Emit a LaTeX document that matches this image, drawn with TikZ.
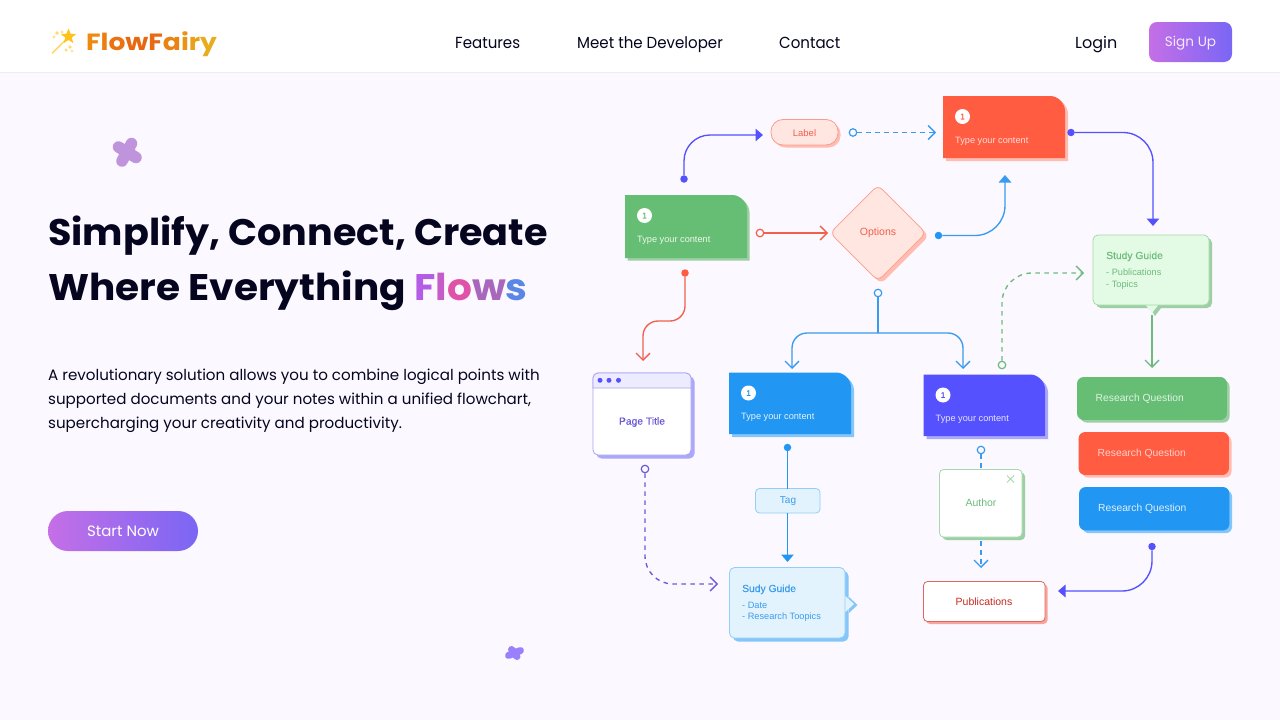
\documentclass[tikz,border=0pt]{standalone}
\usepackage{fontspec}
\usetikzlibrary{arrows.meta,shapes.geometric,calc}
\setmainfont{Poppins}
\newfontfamily\dgm{Liberation Sans}
\newfontfamily\dgmm[FakeBold=0.15]{Liberation Sans}
\newfontfamily\ttl[FakeStretch=1.03]{Poppins}
\newfontfamily\ttlb[FakeStretch=1.055]{Poppins}
\newfontfamily\logof[FakeStretch=1.13]{Poppins}
\newfontfamily\navf[FakeStretch=.94]{Poppins}
\definecolor{bgc}{HTML}{FBF8FF}
\definecolor{ink}{HTML}{05051F}
\definecolor{gr}{HTML}{66BE74}
\definecolor{grs}{HTML}{9DCFA4}
\definecolor{grl}{HTML}{E3FBE4}
\definecolor{grb}{HTML}{A8D8AC}
\definecolor{re}{HTML}{FF5C42}
\definecolor{res}{HTML}{FFBCB0}
\definecolor{rel}{HTML}{FFE6E1}
\definecolor{reb}{HTML}{FF9A8A}
\definecolor{red}{HTML}{C62A1E}
\definecolor{pbs}{HTML}{F8A39B}
\definecolor{pbb}{HTML}{E0655A}
\definecolor{bl}{HTML}{2196F3}
\definecolor{bls}{HTML}{85C6FA}
\definecolor{bll}{HTML}{E3F3FE}
\definecolor{blb}{HTML}{93CDF8}
\definecolor{pu}{HTML}{5551FF}
\definecolor{pus}{HTML}{ABA8FA}
\definecolor{pub}{HTML}{A9A2F0}
\definecolor{pul}{HTML}{EDEBFF}
\definecolor{pud}{HTML}{6A5AD8}
\definecolor{gold}{HTML}{FFC21A}
\definecolor{gola}{HTML}{FFD866}
\definecolor{gs}{HTML}{C56FE6}
\definecolor{ge}{HTML}{7A66F5}
\definecolor{bloba}{HTML}{C094DC}
\definecolor{blobb}{HTML}{9A7FFF}
\definecolor{lnre}{HTML}{F0604C}
\definecolor{lnbl}{HTML}{3A9BEE}
\definecolor{lngr}{HTML}{6DBB7C}
\tikzset{
  x=1pt,y=-1pt,
  dotf/.style={circle,fill=#1,inner sep=0pt,minimum size=7.5pt},
  doto/.style={circle,draw=#1,fill=bgc,line width=1.2pt,inner sep=0pt,minimum size=7.5pt},
  cona/.style={line width=1.35pt,line join=round},
  chev/.style={-{Straight Barb[length=7pt,width=14pt,line width=1.35pt]}},
  tri/.style={-{Triangle[length=7.5pt,width=12.5pt]}},
  dashs/.style={dash pattern=on 4.5pt off 4.5pt},
  dtxt/.style={inner sep=0pt,font=\dgm\fontsize{9.2}{12}\selectfont},
  navt/.style={inner sep=0pt,font=\navf\fontsize{16}{20}\selectfont,text=ink},
  para/.style={anchor=base west,inner sep=0pt,font=\fontsize{15.1}{18}\selectfont,text=ink},
  badge/.style={circle,fill=white,inner sep=0pt,minimum size=15pt,font=\dgmm\fontsize{8}{8}\selectfont},
  rq/.style={anchor=west,inner sep=0pt,font=\dgm\fontsize{10.3}{12}\selectfont},
  heads/.style={anchor=base west,inner sep=0pt,font=\dgmm\fontsize{10.3}{12}\selectfont},
  subs/.style={anchor=base west,inner sep=0pt,font=\dgm\fontsize{9.2}{11}\selectfont},
  blob/.style={line cap=round},
  ttlt/.style={anchor=base west,inner sep=0pt,text=ink,font=\bfseries\fontsize{37}{40}\selectfont},
  dia/.style={diamond,aspect=1,minimum size=96pt,inner sep=0pt,rounded corners=6pt},
}
\newcommand\fcard[9]{%
  \fill[#7] ({#2+#8},{#3+#8}) -- ({#4+#8-15},{#3+#8}) .. controls ({#4+#8-7},{#3+#8}) and ({#4+#8},{#3+#8+7}) .. ({#4+#8},{#3+#8+15}) -- ({#4+#8},{#5+#8}) -- ({#2+#8},{#5+#8}) -- cycle;
  \fill[#6] (#2,#3) -- ({#4-15},#3) .. controls ({#4-7},#3) and (#4,{#3+7}) .. (#4,{#3+15}) -- (#4,#5) -- (#2,#5) -- cycle;
  \node[badge,text=#6] (#1b) at ({#2+19.5},{#3+20.5}) {1};
  \node[dtxt,anchor=west,text=#9] (#1t) at ({#2+12},{#3+45}) {Type your content};
}
\newcommand\rbox[9]{%
  \fill[#7,rounded corners=#9pt] ({#1+#8},{#2+#8}) rectangle ({#3+#8},{#4+#8});
  \draw[fill=#5,draw=#6,line width=.8pt,rounded corners=#9pt] (#1,#2) rectangle (#3,#4);
}
\newcommand\spark[4]{%
  \fill[#4] ({#1},{#2-#3}) -- ({#1+.3*#3},{#2-.3*#3}) -- ({#1+#3},{#2}) -- ({#1+.3*#3},{#2+.3*#3}) -- ({#1},{#2+#3}) -- ({#1-.3*#3},{#2+.3*#3}) -- ({#1-#3},{#2}) -- ({#1-.3*#3},{#2-.3*#3}) -- cycle;
}
\begin{document}
\begin{tikzpicture}
\useasboundingbox (0,0) rectangle (1280,720);
\fill[bgc] (0,0) rectangle (1280,720);
\fill[white] (0,0) rectangle (1280,72);
\draw[color=black!5!bgc,line width=.8pt] (0,72.4) -- (1280,72.4);
% logo wand
\draw[gola,line width=1.6pt,line cap=round] (52.5,53) -- (65,40.5);
\node[star,star points=5,star point ratio=2.3,fill=gold,inner sep=0pt,minimum size=16pt] (wstar) at (68.5,36.5) {};
\spark{57}{33}{2.5}{gola}
\spark{62}{32}{1.8}{gola}
\spark{54}{37}{1.8}{gola}
\spark{70}{47}{2.4}{gola}
\spark{66}{50}{2}{gola}
\spark{72}{51}{1.6}{gola}
\node[anchor=base west,inner sep=0pt,font=\logof\bfseries\fontsize{23.5}{26}\selectfont] (logo) at (86,50)
 {\textcolor[HTML]{EE8A10}{F}\textcolor[HTML]{EC7E10}{l}\textcolor[HTML]{EA7210}{o}\textcolor[HTML]{E86810}{w}\textcolor[HTML]{E86A12}{F}\textcolor[HTML]{E98414}{a}\textcolor[HTML]{EA9416}{i}\textcolor[HTML]{EAA018}{r}\textcolor[HTML]{E8AC1C}{y}};
% nav
\node[navt,anchor=base west] (nfeat) at (455,48) {Features};
\node[navt,anchor=base west] (ndev) at (577,48) {Meet the Developer};
\node[navt,anchor=base west] (ncon) at (779,48) {Contact};
\node[inner sep=0pt,anchor=base west,text=ink,font=\fontsize{16}{20}\selectfont] (nlog) at (1075,48) {Login};
\shade[left color=gs,right color=ge,rounded corners=8pt] (1149,22) rectangle (1232,62);
\node[inner sep=0pt,text=white!85!gs,font=\fontsize{13.6}{18}\selectfont] (nsign) at (1190.5,43) {Sign Up};
% blobs
\draw[blob,color=bloba,line width=11.5pt] (118.5,147) -- (136,157.5);
\draw[blob,color=bloba,line width=11.5pt] (131.5,143.5) -- (122,161);
\fill[bloba] (127,152) circle (8.5pt);
\draw[blob,color=blobb,line width=7pt] (511.5,649.5) -- (517,656.5);
\draw[blob,color=blobb,line width=7pt] (520.5,650.5) -- (508.5,655.5);
\fill[blobb] (514.5,653) circle (5pt);
% heading
\node[ttlt,font=\ttl\bfseries\fontsize{37}{40}\selectfont] (t1) at (48,245) {Simplify, Connect, Create};
\node[ttlt,font=\ttlb\bfseries\fontsize{37}{40}\selectfont] (t2) at (48,300) {Where Everything \textcolor[HTML]{B45CE6}{F}\textcolor[HTML]{C65CC8}{l}\textcolor[HTML]{E052A8}{o}\textcolor[HTML]{A866BC}{w}\textcolor[HTML]{5C86E6}{s}};
% paragraph
\node[para] (p1) at (48,380.5) {A revolutionary solution allows you to combine logical points with};
\node[para] (p2) at (48,404.5) {supported documents and your notes within a unified flowchart,};
\node[para] (p3) at (48,428.5) {supercharging your creativity and productivity.};
% start
\shade[left color=gs,right color=ge,rounded corners=20pt] (48,511) rectangle (198,551);
\node[inner sep=0pt,text=white,font=\fontsize{15}{18}\selectfont] (start) at (123,531) {Start Now};
% cards
\fcard{cg}{625}{195}{747}{258}{gr}{grs}{2.5}{white!88!gr}
\fcard{cr}{943}{96}{1065}{158}{re}{res}{3}{white!80!re}
\fcard{cb}{729}{372.5}{851}{434}{bl}{bls}{3}{white!88!bl}
\fcard{cp}{923.5}{374.5}{1045}{436}{pu}{pus}{3}{white!85!pu}
% Label pill
\rbox{771}{119.5}{838}{145}{rel}{reb}{res}{2.5}{12}
\node[inner sep=0pt,text=lnre,font=\dgm\fontsize{9.5}{12}\selectfont] (lab) at (804.5,133) {Label};
% diamond
\node[dia,fill=res] (dshadow) at (881,236) {};
\node[dia,fill=rel,draw=reb,line width=.8pt,text=lnre,font=\dgm\fontsize{10.5}{12}\selectfont] (opt) at (878,233) {\raisebox{-1.5pt}{Options}};
% Study guide green
\fill[grs] (1150,308) -- (1155,316) -- (1161,308) -- cycle;
\rbox{1093}{235}{1209}{305}{grl}{grb}{grs}{3}{5}
\fill[grl] (1146,305.4) -- (1152,313) -- (1158,305.4) -- cycle;
\node[heads,text=lngr] (sg1) at (1106,259) {Study Guide};
\node[subs,text=lngr] (sg2) at (1106,275) {- Publications};
\node[subs,text=lngr] (sg3) at (1106,287) {- Topics};
% Page title
\rbox{593}{373}{691}{455}{white}{pub}{pus}{3.5}{5}
\draw[fill=pul,draw=pub,line width=.8pt] (593,388) -- (593,378) .. controls (593,375.2) and (595.2,373) .. (598,373) -- (686,373) .. controls (688.8,373) and (691,375.2) .. (691,378) -- (691,388) -- cycle;
\fill[pu] (600,380.3) circle (2.5pt) (609,380.3) circle (2.5pt) (618.5,380.3) circle (2.5pt);
\node[inner sep=0pt,text=pud,font=\dgmm\fontsize{10.3}{12}\selectfont] (ptt) at (642,422) {Page Title};
% Tag
\rbox{755.5}{488.5}{820}{513}{bll}{blb}{bll}{0}{4}
\node[inner sep=0pt,text=lnbl,font=\dgm\fontsize{10}{12}\selectfont] (tag) at (788,501) {Tag};
% Sudy guide blue
\fill[bls] (849,597) -- (857.5,605) -- (849,613) -- cycle;
\rbox{729.5}{567.5}{845}{638}{bll}{blb}{bls}{3.5}{5}
\fill[bll] (845.4,596) -- (854,604) -- (845.4,612) -- cycle;
\node[heads,text=lnbl] (su1) at (742,592) {Sudy Guide};
\node[subs,text=lnbl] (su2) at (742,608) {- Date};
\node[subs,text=lnbl] (su3) at (742,619.5) {- Research Toopics};
% Author
\rbox{939.5}{469.5}{1022}{537}{white}{grb}{grs}{3}{4}
\node[inner sep=0pt,text=lngr,font=\dgm\fontsize{10.5}{12}\selectfont] (aut) at (981,503) {Author};
\draw[grb,line width=.8pt] (1007,475.5) -- (1014,482.5) (1014,475.5) -- (1007,482.5);
% Publications
\rbox{923.5}{581.5}{1045}{621.5}{white}{pbb}{pbs}{2.5}{4}
\node[inner sep=0pt,text=red,font=\dgm\fontsize{10.5}{12}\selectfont] (pub) at (984,602) {Publications};
% Research
\rbox{1077.5}{377.5}{1226.5}{419.5}{gr}{gr}{grs}{3}{6}
\node[rq,text=white!80!gr] (rq1) at (1095.5,398.7) {Research Question};
\rbox{1079}{432.5}{1228.5}{474.5}{re}{re}{res}{3}{6}
\node[rq,text=white!72!re] (rq2) at (1097.5,453.7) {Research Question};
\rbox{1079.5}{487.5}{1229}{530}{bl}{bl}{bls}{3}{6}
\node[rq,text=white!85!bl] (rq3) at (1098,508.7) {Research Question};
% connector ends
\node[dotf=pu] (a1) at (684,179) {};
\coordinate (a2) at (763,135);
\node[doto=lnbl] (b1) at (853,132.5) {};
\coordinate (b2) at (936,132.5);
\node[doto=lnre] (c1) at (760,233) {};
\coordinate (c2) at (828,233);
\node[dotf=bl] (d1) at (938.5,235.5) {};
\coordinate (d2) at (1005,175);
\node[dotf=pu] (e1) at (1071,132.5) {};
\coordinate (e2) at (1153,226);
\node[dotf=re] (f1) at (685,273) {};
\coordinate (f2) at (643,361);
\coordinate (fm) at (664,321);
\node[doto=lnbl] (g1) at (878,293) {};
\coordinate (gj) at (878,333);
\coordinate (g2) at (792,369);
\coordinate (g3) at (963,369);
\node[doto=lngr] (h1) at (1002,365) {};
\coordinate (h2) at (1084,273);
\coordinate (i1) at (1152,315);
\coordinate (i2) at (1152,368);
\node[dotf=bl] (j1) at (787.5,447.5) {};
\coordinate (j2) at (787.5,488.5);
\coordinate (j3) at (787.5,513);
\coordinate (j4) at (787.5,562);
\node[doto=pud] (k1) at (645,469) {};
\coordinate (k2) at (718,584);
\node[doto=lnbl] (l1) at (981,450) {};
\coordinate (l2) at (981,469.5);
\coordinate (m1) at (981,541);
\coordinate (m2) at (981,568);
\node[dotf=pu] (n1) at (1152,546.5) {};
\coordinate (n2) at (1058,591);
% connectors
\draw[cona,pu,tri,rounded corners=26pt] (a1) |- (a2);
\draw[cona,lnbl,chev,dashs] (b1) -- (b2);
\draw[cona,lnre,chev] (c1) -- (c2);
\draw[cona,lnbl,tri,rounded corners=30pt] (d1) -| (d2);
\draw[cona,pu,tri,rounded corners=30pt] (e1) -| (e2);
\draw[cona,lnre,chev,rounded corners=15pt] (f1) -- (f1 |- fm) -- (f2 |- fm) -- (f2);
\draw[cona,lnbl] (g1) -- (gj);
\draw[cona,lnbl,chev,rounded corners=15pt] (gj) -| (g2);
\draw[cona,lnbl,chev,rounded corners=15pt] (gj) -| (g3);
\draw[cona,lngr,chev,dashs,rounded corners=30pt] (h1) |- (h2);
\draw[cona,lngr,chev] (i1) -- (i2);
\draw[cona,bl] (j1) -- (j2);
\draw[cona,bl,tri] (j3) -- (j4);
\draw[cona,pud,chev,dashs,rounded corners=28pt] (k1) |- (k2);
\draw[cona,lnbl,dashs] (l1) -- (l2);
\draw[cona,lnbl,chev,dashs] (m1) -- (m2);
\draw[cona,pu,tri,rounded corners=30pt] (n1) |- (n2);
\end{tikzpicture}
\end{document}
